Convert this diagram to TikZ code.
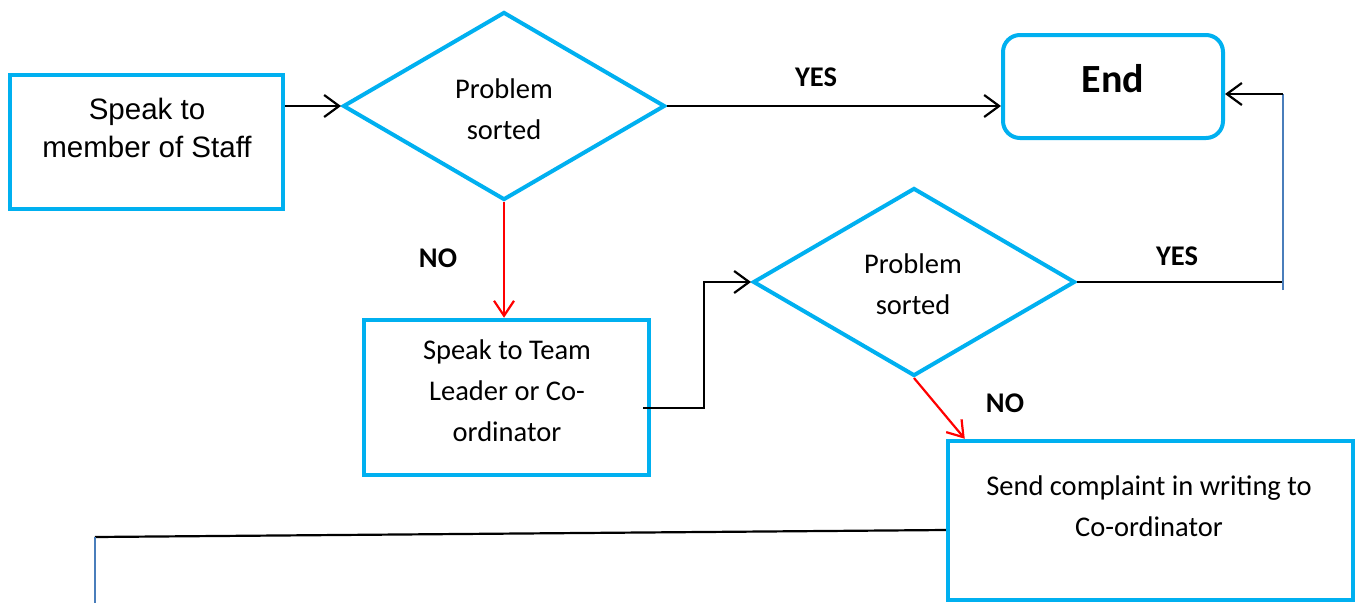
\documentclass[tikz,border=0pt]{standalone}
\usepackage{fontspec}
\setmainfont{Carlito}
\newfontfamily\arialf{Liberation Sans}
\usetikzlibrary{shapes.geometric,arrows.meta,calc}
\definecolor{boxblue}{HTML}{00B0F0}
\definecolor{lineblue}{HTML}{4A7EBB}
\definecolor{arrred}{HTML}{FF0000}
\begin{document}
\begin{tikzpicture}[x=1pt,y=-1pt,
  shapebox/.style={draw=boxblue,line width=4.5pt,rectangle,inner sep=0pt},
  decision/.style={draw=boxblue,line width=4pt,diamond,inner sep=0pt,minimum width=322pt,minimum height=188pt},
  conn/.style={draw=black,line width=2.2pt,-{Straight Barb[length=15pt,width=22pt]}},
  redconn/.style={draw=arrred,line width=2.2pt,-{Straight Barb[length=15pt,width=20pt]}},
  plain/.style={draw=black,line width=2.2pt},
  bluel/.style={draw=lineblue,line width=2.6pt},
  txt/.style={font=\fontsize{28.5}{41}\selectfont,align=center,inner sep=0pt},
  arialtxt/.style={font=\arialf\fontsize{29.5}{38}\selectfont,align=center,inner sep=0pt},
  lbl/.style={font=\bfseries\fontsize{28.5}{34}\selectfont,inner sep=0pt}]
\useasboundingbox (0,0) rectangle (1357,603);
\fill[white] (0,0) rectangle (1357,603);
% shapes
\node[shapebox,minimum width=273pt,minimum height=134pt] (b1) at (146.5,142) {};
\node[decision] (d1) at (504,106) {};
\node[shapebox,line width=4pt,rounded corners=17pt,minimum width=220pt,minimum height=103pt] (e) at (1113,86.5) {};
\node[decision] (d2) at (914,282) {};
\node[shapebox,minimum width=285pt,minimum height=155pt] (t) at (506.5,397.5) {};
\node[shapebox,minimum width=405pt,minimum height=159pt] (s) at (1150.5,520.5) {};
% texts
\node[arialtxt] (b1t) at (147,127.5) {Speak to\\member of Staff};
\node[txt] (d1t) at (504,109) {Problem\\sorted};
\node[font=\bfseries\fontsize{40}{48}\selectfont,inner sep=0pt] (et) at (1113,78.7) {End};
\node[txt] (d2t) at (913,284) {Problem\\sorted};
\node[txt] (tt) at (507,391) {Speak to Team\\Leader or Co-\\ordinator};
\node[txt] (st) at (1149,506) {Send complaint in writing to\\Co-ordinator};
\node[lbl] (yes1) at (816,77) {YES};
\node[lbl] (no1) at (438,258) {NO};
\node[lbl] (yes2) at (1177,256) {YES};
\node[lbl] (no2) at (1005,403) {NO};
% helper coordinates
\coordinate (k) at (704,408);
\coordinate (r1) at (1283,290);
\coordinate (r2) at (1283,94);
\coordinate (l1) at (95,537);
\coordinate (l2) at (95,603);
% connectors
\draw[conn] (b1.east |- d1.west) -- (d1.west);
\draw[conn] (d1.east) -- (d1.east -| e.west);
\draw[redconn] (d1.south) -- (d1.south |- t.north);
\draw[conn] ($(t.east)+(-8,10.5)$) -- (k) |- (d2.west);
\draw[plain] (d2.east) -- (d2.east -| r1);
\draw[bluel] (r1) -- (r2);
\draw[conn] (r2) -- (r2 -| e.east);
\draw[redconn] (d2.south) -- ($(s.north west)+(19,0)$);
\draw[plain] ($(s.west)+(0,9.5)$) -- (l1);
\draw[bluel] (l1) -- (l2);
\end{tikzpicture}
\end{document}
